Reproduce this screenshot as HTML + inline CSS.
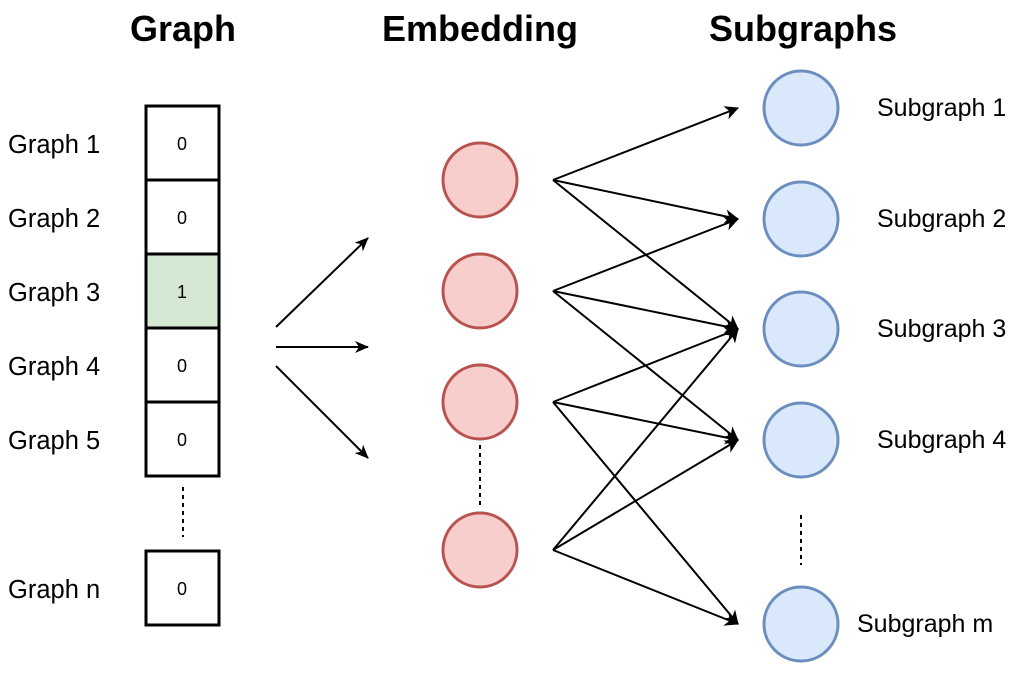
<!DOCTYPE html>
<html><head><meta charset="utf-8"><style>
body{margin:0;background:#fff;width:1014px;height:669px;overflow:hidden}
text{font-family:"Liberation Sans",Arial,sans-serif}
</style></head><body>
<svg width="1014" height="669" viewBox="0 0 1014 669" xmlns="http://www.w3.org/2000/svg">
<defs><marker id="a" markerWidth="14" markerHeight="14" refX="13" refY="7" orient="auto" markerUnits="userSpaceOnUse"><path d="M0,1 L14,7 L0,13 L4,7 z" fill="#000"/></marker>
<marker id="b" markerWidth="14" markerHeight="14" refX="13" refY="7" orient="auto" markerUnits="userSpaceOnUse"><path d="M0,0 L14,7 L0,14 L4,7 z" fill="#000"/></marker></defs>
<g font-weight="bold" font-size="36" text-anchor="middle">
<text x="183" y="41">Graph</text><text x="480" y="41">Embedding</text><text x="803" y="41">Subgraphs</text></g>
<g stroke="#000" stroke-width="3" fill="#fff">
<rect x="146" y="106" width="73" height="74"/><rect x="146" y="180" width="73" height="74"/>
<rect x="146" y="254" width="73" height="74" fill="#d5e8d4"/><rect x="146" y="328" width="73" height="74"/>
<rect x="146" y="402" width="73" height="74"/><rect x="146" y="551" width="73" height="74"/></g>
<g font-size="18" text-anchor="middle"><text x="182" y="150">0</text><text x="182" y="224">0</text><text x="182" y="298">1</text><text x="182" y="372">0</text><text x="182" y="446">0</text><text x="182" y="595">0</text></g>
<g font-size="25.5"><text x="8" y="153">Graph 1</text><text x="8" y="227">Graph 2</text><text x="8" y="301">Graph 3</text><text x="8" y="375">Graph 4</text><text x="8" y="449">Graph 5</text><text x="8" y="598">Graph n</text></g>
<g stroke="#000" stroke-width="2" stroke-dasharray="4,4"><line x1="183" y1="487" x2="183" y2="537"/><line x1="480" y1="445" x2="480" y2="505"/><line x1="801" y1="515" x2="801" y2="565"/></g>
<g stroke="#b85450" stroke-width="3" fill="#f8cecc"><circle cx="480" cy="180" r="37"/><circle cx="480" cy="291" r="37"/><circle cx="480" cy="402" r="37"/><circle cx="480" cy="550" r="37"/></g>
<g stroke="#6c8ebf" stroke-width="3" fill="#dae8fc"><circle cx="801" cy="108" r="37"/><circle cx="801" cy="219" r="37"/><circle cx="801" cy="329" r="37"/><circle cx="801" cy="440" r="37"/><circle cx="801" cy="624" r="37"/></g>
<g font-size="25"><text x="877" y="116">Subgraph 1</text><text x="877" y="227">Subgraph 2</text><text x="877" y="337">Subgraph 3</text><text x="877" y="448">Subgraph 4</text><text x="857" y="632">Subgraph m</text></g>
<g stroke="#000" stroke-width="2" marker-end="url(#a)">
<line x1="276" y1="327" x2="368" y2="238"/><line x1="276" y1="347" x2="368" y2="347"/><line x1="276" y1="366" x2="368" y2="458"/></g>
<g stroke="#000" stroke-width="2" marker-end="url(#b)">
<line x1="553" y1="180" x2="738" y2="108"/><line x1="553" y1="180" x2="738" y2="219"/><line x1="553" y1="180" x2="738" y2="329"/>
<line x1="553" y1="291" x2="738" y2="219"/><line x1="553" y1="291" x2="738" y2="329"/><line x1="553" y1="291" x2="738" y2="440"/>
<line x1="553" y1="402" x2="738" y2="329"/><line x1="553" y1="402" x2="738" y2="440"/><line x1="553" y1="402" x2="738" y2="624"/>
<line x1="553" y1="550" x2="738" y2="329"/><line x1="553" y1="550" x2="738" y2="440"/><line x1="553" y1="550" x2="738" y2="624"/></g>
</svg>
</body></html>
